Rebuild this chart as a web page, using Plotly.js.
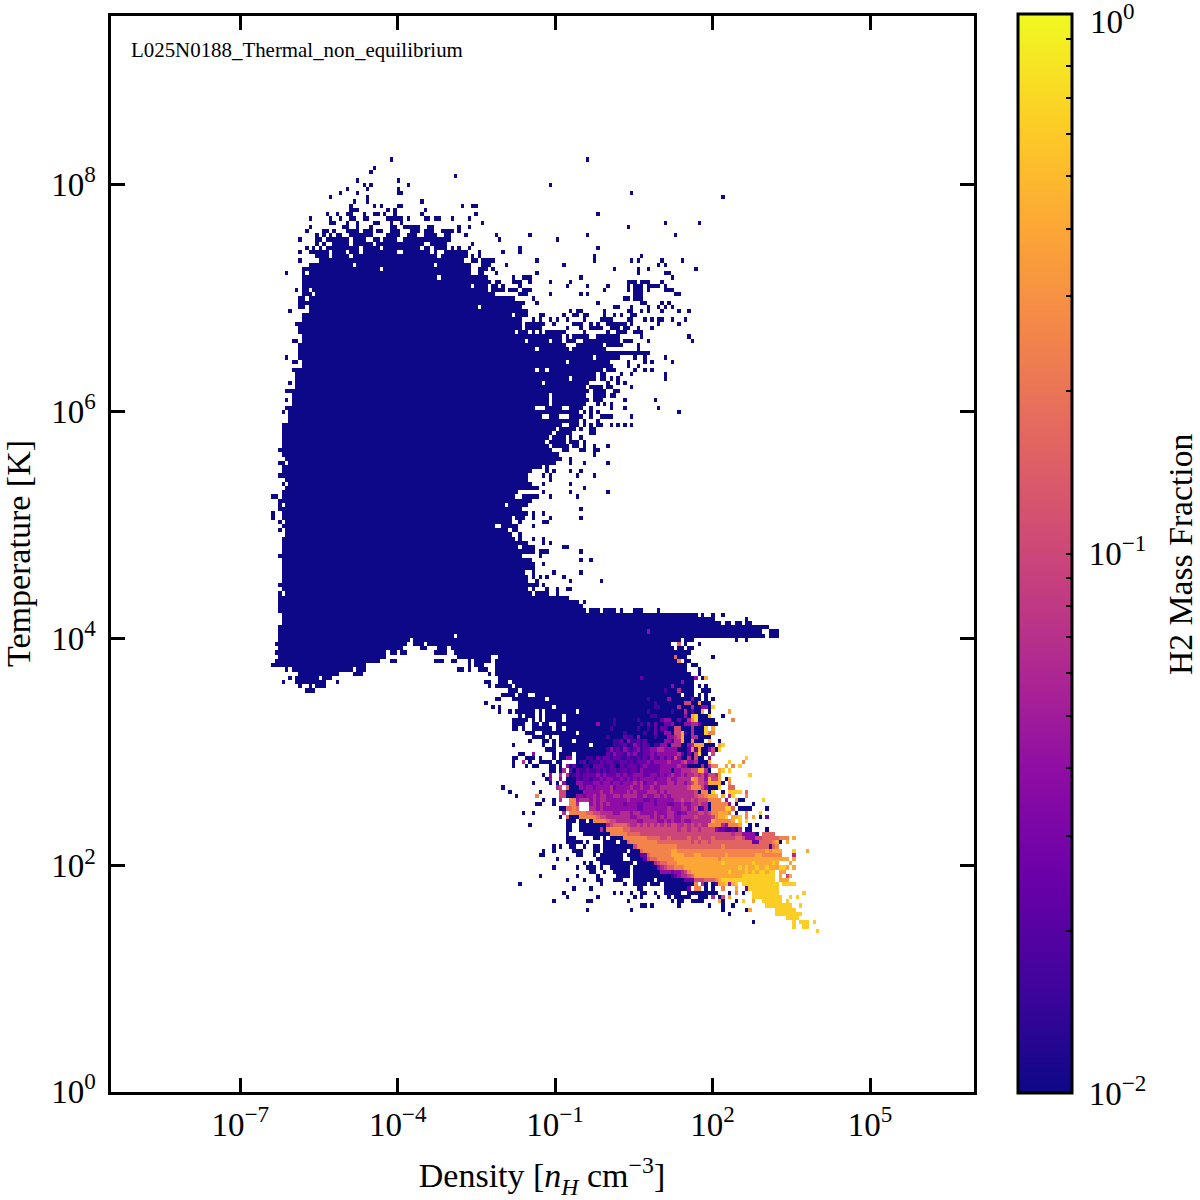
<!DOCTYPE html>
<html>
<head>
<meta charset="utf-8">
<script src="https://cdn.plot.ly/plotly-3.0.1.min.js"></script>
<style>body { margin: 0; background: #fff; }</style>
</head>
<body>
<div id="chart" style="width:1200px;height:1200px"></div>
<script>
// histogram grid, bins counted from the bottom left of the axes
const binCount = 256;
const densityLogRange = [-9.5, 7];
const temperatureLogRange = [0, 9.5];

// log10 of the H2 fraction for the level digits used in the rows below
const levelValues = [-2, -1.8, -1.6, -1.4, -1.2, -1, -0.8, -0.6, -0.4, -0.2];

// occupied bins per temperature row, top row first
// "a-b" or "a" = bins at the floor level, "a=digits" = levels starting at bin a
const upperTopRow = 221;
const upperRows = [
  "83 141", "", "78", "77", "102", "73 85", "75 77 88 130", "70 76 85", "68 73 85-86 154", "65 76 181",
  "72 76 92",
  "71 78 80 85-86 104 107-108",
  "71-73 82 84 93",
  "64 67 70-71 75 78-79 81 84 92 108 144",
  "59 65 68 71-72 75-76 82-86 88 93-94 96-97 101 106",
  "65-66 70 73 78-79 83 86 110 164 174",
  "59 69-70 73 77 83 84 87-91 94-95 103 106 153",
  "58 63-64 66 70-73 75-77 79-80 83-84 85 89-91 93-95 98-100 101 103",
  "61 63 65 67-68 71-77 82-84 85 88-90 93-95 96 99-100 105 114 124 141 167",
  "56 61-62 64-70 72-74 75 78-79 81-84 87-90 91-99 100 115 132",
  "61 63 66-70 72-77 79-87 88-92 95-99 107",
  "58 60 62 64-73 75-79 81-91 93-94 96-99 101 103 106 121 144",
  "56 59-64 66-69 71-73 75-84 87-94 96 99-105 109 116 121",
  "61-64 66-70 72-74 75-94 95-96 98-104 105 107 109 143 157",
  "56 62-85 86-104 107-108 110-113 126 143 154 156 163 169",
  "59-71 73-95 97-106 110-112 117 134 162 164",
  "57-79 81-106 109-111 113 149 156 159 173",
  "52 57 59-106 109-110 114 126 156 164-165",
  "57-96 98-106 107-110 111 119 122-124 139 166",
  "57-106 107-112 114-115 119-120 121 124 130 136 153-155 157-159 163",
  "57-106 108-110 111 113-114 116 121 135 141 147 153 155-157 159-162 164",
  "55 57-58 60-110 111 113-116 118-120 122-124 146 153 155-157 159 164-166",
  "57-59 61-113 121-123 130 139 141 155-157 167-168",
  "56-57 59-116 117-119 125 152-153 155-157",
  "56-116 117-118 119-122 126 144 157-158 163 165",
  "56-57 59-108 110-117 118-120 121 149-150 154 159 162 164 166",
  "53 59-114 115-118 119-123 136 138-139 146 153-154 157 159 163 168 171",
  "57-118 120-123 127-128 134 137-138 140-141 146 149 151 154-155",
  "57-119 120-121 125 127 130 132 135 140 145-148 153-154 158 160 162-163 166 170",
  "55-121 123-128 131 137-139 142 144 147-152 154 162 168",
  "56-120 121 123-125 126-127 135 139 142-145 148-150 152-153 156 160",
  "56-119 121-123 125 127 129-134 140 147 150-152 155-157",
  "57-123 124-127 128-130 131-133 135 137-139 140-141 144-150 157 171",
  "54-55 57-122 124-129 131-133 135-137 140-150 152-154 159 172",
  "56-124 125-134 138-142 143-145 147-151 156",
  "56-125 127-131 132-135 137-146 156",
  "56-152 153-156 157-159",
  "52 56-138 139-142 144-149 150 155 158 164",
  "54-55 57-133 134 136-147 153 158 160 166",
  "57-141 142-148 153 156",
  "54-125 127 128 130-145 147-149 155 158 160",
  "55-143 145-146 151 154 164",
  "55-135 137-140 141-143 145-146 148 150 164",
  "53 55-127 129-141 147 150 152",
  "55-140 142-145 147-148 154",
  "52-131 132-141 143-146 149-150",
  "54-129 131-140 143 144-146 148-149",
  "52 54-129 131-136 137-141 143-145 152 161",
  "54-129 131-140 144 146 148",
  "52-125 129-133 136-139 142 148 152 162",
  "51 53-131 132-138 140 142 144 168",
  "53-127 130-132 136-139 142 145-148 154",
  "53-129 130-133 134-138 140 144",
  "51-133 136-138 140 142 144-145 148 150 152 154",
  "51-131 133-137 139 142-143",
  "51-130 132-136 142-143",
  "51-129 131-134 136 139",
  "51-128 130-134 136 137-138 140",
  "51-129 131-135 137-138 140 143 147",
  "50-130 134-135 139-140 143-144",
  "51-132 143",
  "52-128 129-133 136",
  "50-51 53-118 119-126 127-131 136 140 147",
  "51-127 129",
  "51-124 129 131 136 139",
  "50-121 122-123 128 130 138 143",
  "52-118 119-122 123 130",
  "51 53-120 121-124 128 136",
  "52-122 123-126 140",
  "51-118 119-120 128 136 147",
  "48-49 51-119 122-126 130 138",
  "50-124",
  "50 52-113 114-116 118-123",
  "50-117 118-120 121 139",
  "48 51-120 121-123 125 128",
  "48 51-118 120-122 125 130 139",
  "50 52-113 114-116 117-118 121 128-129",
  "51-113 116-120 125",
  "50 52-116 117 119-120",
  "52-118 121",
  "51-119 121 125 128",
  "51-116 117-123 128 130",
  "51-120 122-124 125 134-135",
  "51-122 123-125 127-129 139",
  "50-120 121 127",
  "51-120 121-124 139 142",
  "51-122 123-124 125 128",
  "51-124 125",
  "51-122 125 131 139",
  "51-118 119-120 121-123 125 127 129 134",
  "51-123 126 136 145",
  "50-126 128",
  "51-123 125 129 132 135-136",
  "50 52-124 126-129 132",
  "50-135",
  "50-128 129-138 140",
  "50-128 129-139",
  "50-131 132-140 142-143 144 146-149 151 155-157 162",
  "51-170 171-173 175 178 181",
  "51-178 188",
  "51-139 140-180 182-183 185-186 188-189",
  "50-144 145-194",
  "50-158 159=3 160-162 163-191 192 195-197",
  "50-101 103-193 195-197"
];

// the cold tail, where the H2 fraction climbs above the floor
const lowerTopRow = 107;
const lowerRows = [
  "50-88 90-168 170-171 172 185 188",
  "49-87 90-92 94-165 168=6 170 174",
  "50-86 92-93 97-99 101-166 168-169 171-172",
  "49-81 83-84 86-87 96-99 102-167 168-171",
  "50-76 77-79 80-81 103-112 115-166 167=6 168-170 178",
  "49-79 83-84 96-98 101-102 106 108-111 112 114-167 168=7 170-171",
  "48-75 106 108-110 114-170 172-173",
  "52 54-71 73-75 103-104 106 109-111 114-170 174",
  "56-67 72-74 112 114-171 174",
  "53 55-57 58-61 63-65 115-156 157=2 158-172 173=3 175 176=8",
  "51 55-59 60-62 63 67 111 112 115-117 119-168 169=3 170-172",
  "56 59 61-63 112 114-118 120-165 166=3 167-172 174 176",
  "58-60 118-120 122-163 164=1 165-167 168=4 169-172 175-177",
  "116-119 121-123 126-168 170-172 174 176",
  "114 115 119-128 130-158 159=1 160-164 165=3 166-171 172=3 173-174 176 178",
  "111 121-160 161=1 162-169 170=55 172-173 174=8 175-177",
  "113 115 121-130 132-160 161=11 163-167 168=4 169-171 172=4 173-174 175=33 177 178=9",
  "115 118 120-125 127 129-137 139-158 159=1 160-165 166=1 167-169 170=4 171 172=2 173-174 175=8 177 183=8",
  "121 123-125 127 129-133 135-159 160=11 162-169 170=3 171 172=89 174-176 177=9 181",
  "119-121 122-123 125 127 129-133 135-148 149=1 150-155 156=1 157-162 163=233 166-167 168=2 169-170 171=4 172=7 173=9 174-177 178 184=7",
  "119-120 121-122 125-126 128-129 132-143 144=3 145-148 149=1 150-156 157=1 158 159=2 160 161=2 162-163 164=223 167-169 170=3344 174=2 175 176-177 178-179",
  "119-120 122 125-127 128-130 132-133 135-147 148=1 149-155 156=1 157-158 159=1 160 161=2 162 163=2 164=2 165-166 167=55 169-171 172=4 173-175 176=9 178=8",
  "123-125 128-137 139-151 152=1 153-157 158=1 159-160 161=2 162-163 164=33 166 167=55 169=8 170=1 171 172=4 173-175 176=9 177=77",
  "125-128 130 133-146 147=1 148-151 152=211 155 156=3 157-160 161=1 162-164 165=33 167=45 169=8 170-171 172=44 174-175 176-177",
  "124 128-129 131 133-136 138-148 149=11 151=2 152 153=3 154=11 156=212 159-163 164=33 166=1 167=44 169=8 170-171 172=7 173-175 177=8 180",
  "119 128 131 133-137 138-141 143-148 149=1 150=11 152=2 153 154=1 155=321 158=21 160 161=11 163=33 165 166=4 167=44 169-170 171=3 172=4 173=888 176-177 178 180=89",
  "129-131 134-136 137-146 147=13121 152=32123 157=12233 162=44333 167=3 168-170 171=2 172=7 173=2 174=8 175-176 177=3 178=5 179 180=9",
  "121-122 125=3 131 133-136 138-146 147=21322 152=13231 157=1223 161=2 162=3 163=33333 168=4 169=2 170 171=2 172 173=5 174=9 175-176 178=5",
  "119-120 123-125 127 131 133-134 135=33 138-139 140=01102 145=12212 150=21121 155=12121 160=32132 165=32 167=5 168=3 169-170 171=4 172 173=5 174-175 177=3 188=9",
  "119 122=4 124 127-128 129-130 132-133 138=01201 143=11212 148=21122 153=12122 158=23233 163=33433 168=34533 173=4 174-175 176 177=8 183=9 187=7",
  "119 123 125-126 130-131 133 135=3 136 137=2 138-139 140=11022 145=21121 150=02122 155=21232 160=22233 165=33343 170=3 171 172 173 174 175=4 176 177=4 178=77 182=8 184=7 186=9",
  "130-131 133 134=4 136=2 137 138=21121 143=12121 148=22122 153=12213 158=22222 163=33 165=3 166 167=3 168=34445 173=5 174=88 176=4 177 180=89 183=9",
  "128 130=3 133=4 135=4 136 137=12122 142=22323 147=22232 152=32233 157=32233 162=23234 167=33434 172=4545 176=3 177=55 179=4 180=8 189=9",
  "129 130=3 133=3 135-137 138=21221 143=22323 148=32232 153=32323 158=33323 163=33433 168=44445 172=8 173=7 174=55 176=3 177=8 178=55 180=8 182 183=8",
  "125 130 132 134=3 135-137 138=3 139=3222 143=33233 148=23323 153=33434 158=23343 163=33443 168=4434 172=5 173=7 174=55 176=4 177=8 178=88 180=8 181 183=7",
  "116 132=45 135=6 136-138 139=3 140=23323 145=33342 150=33334 155=33433 160=43344 165=44444 170=45 172=7 173=77 175=5 176=3 177 178-179 180=9 183=66",
  "118 127 133=55 135-139 140=33 142=33343 147=34333 152=34343 157=33444 162=34344 167=44444 172=45 174 175=77 177 178=9 181 183=999 186=9 188=6",
  "120 126=7 133=55 135-137 138=33 140=2 141=33434 146=43344 151=34444 156=33433 161=44343 166=44444 171=44 173=56 175=67 177=88 179=8 181=8 183=4 184=9 188=7",
  "128 131 133=4 136=77 138=344 141=43434 146=43333 151=33433 156=33223 161=23333 166=34454 171=45455 176=5777 180=7 182=3 185=8 186-187 193=9",
  "126-127 131 136=77 138=4 142=34343 147=43333 152=23332 157=23332 162=33322 167=33433 172=44544 177 178=77777 183=3 185 190",
  "133-134 135=66 137=7 138=6 142=44343 147=33333 152=33332 157=23333 162=33343 167=33443 172=45 174=12 176=4 177 178=7777 182=99 184=6 186-189 194",
  "122 125 134=4 136=77 138=777 141=66554 146=44433 151=44434 156=43333 161=43334 166=43233 171=44455 176=45778 181=8 182=87 185 188=7 192=9",
  "133 135=6 136 137-138 139=77 141=777 144=65544 149=44444 154=33444 159=43434 164=34433 169=44445 174=44445 179=78 181=8 182=9 184=88 186=9 188=7 190=8 192 194=2",
  "135-137 139-140 142 143=77 145=77 147=65544 152=44443 157=34444 162=33434 167=33433 172=44444 177=48 179=7 180=777 183=7 184=8 186=9 188=9",
  "124 135-136 139-146 147=4 148=5 149=66 151=66544 156=54545 161=45454 166=55445 171=45454 176=4 177=7777 181=4 182=3 183=777 186=8 189 191",
  "135-136 139-144 145=4 146 147=77 149=777 152=66555 157=55555 162=55555 167=54554 172=55455 177=55 179=3 180=22 182=1 183=12 185 186=4 188 189 194",
  "135 140-147 148=77 150=77766 155=66555 160=55555 165=55555 170=55555 175=55555 180=55 182=55 184=4 185=55 187=3333 191 193=6666",
  "135-137 143-144 146 148-151 152=77 154=7 155=77776 160=66655 165=65555 170=56556 175=55565 180=55555 185=66 187=5 188=333 191=5 192=56 194=6666 198=777 202=8",
  "135-139 141 146-149 151-152 153=67 155=77777 160=77666 165=66666 170=66565 175=66566 180=66666 185=66666 190=22 192=6666 196=78 198 200=8",
  "131 133 136-137 140 143-144 146-154 155=57 157=77777 162=77777 167=76666 172=66666 177=66667 182=66666 187=66666 192=666 195=1 196=67",
  "128 131 137-139 143-144 146-152 154-156 157=6 158=77777 163=77788 168=77777 173=77777 178=77777 183=77777 188=77777 193=78 195=788 198=8 202=9 206=8",
  "127-128 138-139 143 145-151 153-156 157=22 159=67777 164=77888 169=87778 174=87777 179=77787 184=77777 189=77887 194=77777 202=4",
  "132 135 144 145-151 154-157 158=2 159=56677 164=77788 169=88888 174=88888 179=87888 184=88888 189=88888 194=88888 199=88 202=8",
  "140 142 145-154 156-160 161=4 162=56677 167=78888 172=88888 177=88889 182=88888 187=88898 192=88889 197=8 201=8",
  "131 138 141-143 145 148-153 155-161 162=34 164=56677 169=78888 174=88888 179=88888 184=88989 189=88988 194=98889 199=98 202=8",
  "142-143 146 149 150-153 155-162 163=333 166=2 167=3345 171=78888 176=88888 181=88988 186=88989 191=89989 196=9 198=88",
  "127 138 144 150 151-153 155-165 166=12 168=34 170=45 172=68 174=88888 179=88888 184=88899 189=99999 194=999 198=8 200=5 201=8",
  "135 140 144 145 149-151 155-160 162-169 170=222 173=55566 178=678 181=99999 186=99999 191=99999 196=9 198=888",
  "121 145 152 155-157 158 160-162 164-172 173=7 175=4 176 178 179=2 180=889 183=3 184=89 187=99999 192=99999 197=9 199=9999",
  "137 142 156-157 164-170 171=2 173=77 176 178 181=7 185=8 188=2 189=9 190=99999 195=999",
  "134 149 151 154 157-158 161 164-166 167-168 171-179 183 185=7 187 190=99999 195=999 205=9",
  "135 144 155 157 162 165 167-168 169-171 174-176 178=4 180 181=5 183=8 190=99999 195=9999 201=9 203=9",
  "131 141-142 153 166 168-169 172-175 180=8 181 185 187=9 190=8 193=99999 198=9 200=9",
  "157-158 160 168 177 181 184 194=9 195=99999 200=99 204=9",
  "141 154 181 188 189=8 197=99999 202=9",
  "183 197=99999 202=999",
  "200=9999",
  "190 202=9 204=999 208=9",
  "202=9 205=99",
  "209=9"
];

const densityTicks = [-7, -4, -1, 2, 5];
const densityTickLabels = ["10<sup>−7</sup>", "10<sup>−4</sup>", "10<sup>−1</sup>", "10<sup>2</sup>", "10<sup>5</sup>"];
const temperatureTicks = [0, 2, 4, 6, 8];
const temperatureTickLabels = ["10<sup>0</sup>", "10<sup>2</sup>", "10<sup>4</sup>", "10<sup>6</sup>", "10<sup>8</sup>"];

// colorbar ticks: decades carry a label, the rest are the minor marks
const fractionTicks = [0.01, 0.02, 0.03, 0.04, 0.05, 0.06, 0.07, 0.08, 0.09, 0.1, 0.2, 0.3, 0.4, 0.5, 0.6, 0.7, 0.8, 0.9];
const fractionTickLabels = ["&nbsp;10<sup>−2</sup>", "", "", "", "", "", "", "", "", "&nbsp;10<sup>−1</sup>", "", "", "", "", "", "", "", ""];
const fractionTopLabel = "10<sup>0</sup>";

const plasma = [
  [0, "#0d0887"], [0.1, "#41049d"], [0.2, "#6a00a8"], [0.3, "#8f0da4"], [0.4, "#b12a90"], [0.5, "#cc4778"],
  [0.6, "#e16462"], [0.7, "#f2844b"], [0.8, "#fca636"], [0.9, "#fcce25"], [1, "#f0f921"]
];

/**
 * Writes one block of row strings into the grid
 *
 * @param {Array} grid - z values, indexed by row then bin
 * @param {string[]} rows - the row strings, top row first
 * @param {number} topRow - row index of the first string
 */
function fillRows( grid, rows, topRow ) {
    rows.forEach(( row, i ) => {
        row.split( " " ).filter( Boolean ).forEach( token => {
            if ( token.includes( "=" ) ) {
                let [ start, digits ] = token.split( "=" );
                [ ...digits ].forEach(( d, k ) => {
                    grid[ topRow - i ][ Number( start ) + k ] = levelValues[ Number( d ) ];
                });
            } else {
                let [ a, b ] = token.split( "-" ).map( Number );
                for ( let c = a; c <= ( b === undefined ? a : b ); ++c ) {
                    grid[ topRow - i ][ c ] = levelValues[ 0 ];
                }
            }
        });
    });
}

let z = [];
for ( let r = 0; r < binCount; ++r ) {
    z.push( new Array( binCount ).fill( null ) );
}
fillRows( z, upperRows, upperTopRow );
fillRows( z, lowerRows, lowerTopRow );

const dx = ( densityLogRange[ 1 ] - densityLogRange[ 0 ] ) / binCount;
const dy = ( temperatureLogRange[ 1 ] - temperatureLogRange[ 0 ] ) / binCount;

const serif = "Liberation Serif";
const W = 1200;

// plotly draws the axis line outside the plot area, so pull the area in by half the line width
const inset = 1.5;
const xPxPerDecade = 866 / 16.5;
const yPxPerDecade = 1079 / 9.5;
const xView = [ densityLogRange[ 0 ] + inset / xPxPerDecade, densityLogRange[ 1 ] - inset / xPxPerDecade ];
const yView = [ temperatureLogRange[ 0 ] + inset / yPxPerDecade, temperatureLogRange[ 1 ] - inset / yPxPerDecade ];

const axisStyle = {
    showgrid: false,
    zeroline: false,
    showline: true,
    linecolor: "black",
    linewidth: 3,
    mirror: "ticks",
    ticks: "inside",
    ticklen: 14,
    tickwidth: 3,
    tickcolor: "black",
    tickmode: "array",
    tickfont: { family: serif, size: 33, color: "black" }
};

const barPlacement = {
    x: 1018 / W,
    xanchor: "left",
    xpad: 0,
    y: 1 - 14 / W,
    yanchor: "top",
    ypad: 0,
    len: 1079 / W,
    thickness: 54
};

let trace = {
    type: "heatmap",
    z: z,
    x0: densityLogRange[ 0 ] + dx / 2,
    dx: dx,
    y0: temperatureLogRange[ 0 ] + dy / 2,
    dy: dy,
    zmin: -2,
    zmax: 0,
    zsmooth: false,
    colorscale: plasma,
    hoverongaps: false,
    colorbar: Object.assign( {}, barPlacement, {
        outlinewidth: 3,
        outlinecolor: "black",
        ticks: "inside",
        ticklen: 7,
        tickwidth: 2,
        tickcolor: "black",
        tickmode: "array",
        tickvals: fractionTicks.map( f => Math.log10( f ) ),
        ticktext: fractionTickLabels,
        tickfont: { family: serif, size: 33, color: "black" }
    })
};

// see-through second colorbar, only there for the longer tick at the middle decade
let majorTickBar = {
    type: "heatmap",
    z: [ [ null ] ],
    zmin: -2,
    zmax: 0,
    colorscale: [ [ 0, "rgba(0,0,0,0)" ], [ 1, "rgba(0,0,0,0)" ] ],
    hoverinfo: "skip",
    colorbar: Object.assign( {}, barPlacement, {
        outlinewidth: 0,
        ticks: "inside",
        ticklen: 14,
        tickwidth: 3,
        tickcolor: "black",
        tickmode: "array",
        tickvals: [ -1 ],
        showticklabels: false
    })
};

let layout = {
    width: 1200,
    height: 1200,
    margin: { l: 0, r: 0, t: 0, b: 0 },
    paper_bgcolor: "white",
    plot_bgcolor: "white",
    xaxis: Object.assign( {}, axisStyle, {
        domain: [ ( 109 + inset ) / W, ( 975 - inset ) / W ],
        range: xView,
        tickvals: densityTicks,
        ticktext: densityTickLabels,
        ticklabelstandoff: 2,
        title: {
            text: "Density [<i>n<sub>H</sub></i> cm<sup>−3</sup>]",
            font: { family: serif, size: 34, color: "black" },
            standoff: 22
        }
    }),
    yaxis: Object.assign( {}, axisStyle, {
        domain: [ 1 - ( 1093 - inset ) / W, 1 - ( 14 + inset ) / W ],
        range: yView,
        // the 10^0 tick sits under the axis line, keep it inside the view so it is drawn
        tickvals: temperatureTicks.map( t => Math.max( t, yView[ 0 ] ) ),
        ticktext: temperatureTickLabels,
        ticklabelstandoff: 5,
        title: {
            text: "Temperature [K]",
            font: { family: serif, size: 34, color: "black" },
            standoff: 22
        }
    }),
    annotations: [
        {
            text: "L025N0188_Thermal_non_equilibrium",
            xref: "paper", yref: "paper",
            x: 129 / W, y: 1 - 50 / W,
            xanchor: "left", yanchor: "middle",
            showarrow: false,
            font: { family: serif, size: 20.9, color: "black" }
        },
        {
            text: "H2 Mass Fraction",
            xref: "paper", yref: "paper",
            x: 1180 / W, y: 1 - 554 / W,
            xanchor: "center", yanchor: "middle",
            textangle: -90,
            showarrow: false,
            font: { family: serif, size: 33.7, color: "black" }
        },
        {
            // the colorbar drops a label on its very top edge
            text: fractionTopLabel,
            xref: "paper", yref: "paper",
            x: 1088 / W, y: 1,
            xanchor: "left", yanchor: "top",
            yshift: 4,
            showarrow: false,
            font: { family: serif, size: 33, color: "black" }
        }
    ]
};

Plotly.newPlot( "chart", [ trace, majorTickBar ], layout, { displayModeBar: false, staticPlot: true } );
</script>
</body>
</html>
